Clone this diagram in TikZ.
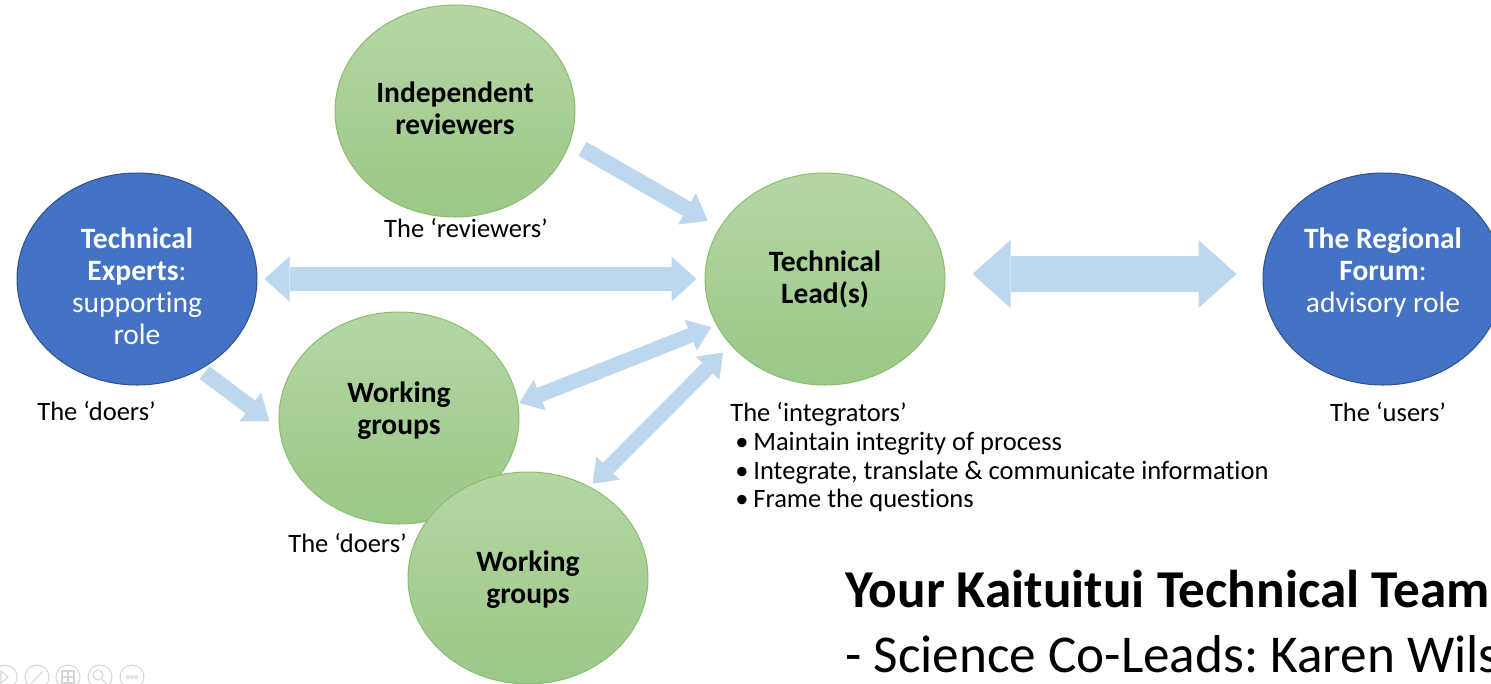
\documentclass[tikz,border=0pt]{standalone}
\usepackage{fontspec}
\setmainfont[Ligatures={TeX,NoCommon}]{Carlito}
\usetikzlibrary{shapes.geometric}
\usetikzlibrary{arrows.meta}

\definecolor{officeblue}{HTML}{4472C4}
\definecolor{blueedge}{HTML}{2F528F}
\definecolor{greentop}{HTML}{B5D6A5}
\definecolor{greenbot}{HTML}{9BC887}
\definecolor{greenedge}{HTML}{8DBE70}
\definecolor{flowblue}{HTML}{BDD7EE}
\definecolor{icongray}{HTML}{D6D6D6}

% lines of an ellipse, moved up or down inside it
\newcommand{\blobtext}[2]{\raisebox{#1}[\height][\depth]{\begin{tabular}{@{}c@{}}#2\end{tabular}}}

\tikzstyle{blob} = [ellipse, minimum width=4.8cm, minimum height=4.24cm, inner sep=0pt, line width=0.6pt, font=\fontsize{16.8}{18.1}\selectfont]
\tikzstyle{blueblob} = [blob, fill=officeblue, draw=blueedge, text=white]
\tikzstyle{greenblob} = [blob, top color=greentop, bottom color=greenbot, draw=greenedge, font=\fontsize{16.8}{18.1}\selectfont\bfseries]
\tikzstyle{caption} = [inner sep=0pt, anchor=base west, font=\fontsize{15.1}{16.4}\selectfont]
\tikzstyle{smallflow} = [draw=flowblue, line width=0.32cm, >={Triangle[length=0.48cm, width=0.72cm, line width=0pt]}]
\tikzstyle{thinflow} = [draw=flowblue, line width=0.3cm, >={Triangle[length=0.44cm, width=0.66cm, line width=0pt]}]
\tikzstyle{midflow} = [draw=flowblue, line width=0.48cm, >={Triangle[length=0.5cm, width=0.9cm, line width=0pt]}]
\tikzstyle{bigflow} = [draw=flowblue, line width=0.72cm, >={Triangle[length=0.76cm, width=1.36cm, line width=0pt]}]

\begin{document}
\frenchspacing
\begin{tikzpicture}[x=0.02cm, y=-0.02cm]
        \useasboundingbox (0,0) rectangle (1491,683);
        \clip (0,0) rectangle (1491,683);

        \node (rev) [greenblob] at (455,111) {\blobtext{-0.02cm}{Independent\\reviewers}};
        \node (exp) [blueblob] at (137,279) {\blobtext{-0.22cm}{\textbf{Technical}\\\textbf{Experts}:\\supporting\\role}};
        \node (lead) [greenblob] at (825,279) {\blobtext{-0.04cm}{Technical\\Lead(s)}};
        \node (forum) [blueblob] at (1383,279) {\blobtext{0.1cm}{\textbf{The Regional}\\\textbf{Forum}:\\advisory role}};
        \node (wg) [greenblob] at (399,418) {\blobtext{0.11cm}{Working\\groups}};
        \node (wgb) [greenblob] at (528,578) {\blobtext{-0.06cm}{Working\\groups}};

        \node (revcap) [caption, anchor=base] at (466,237) {The ‘reviewers’};
        \node (doa) [caption] at (37,420) {The ‘doers’};
        \node (dob) [caption] at (288,552) {The ‘doers’};
        \node (usr) [caption, anchor=base] at (1388,421) {The ‘users’};
        \node (integ) [caption] at (730,421) {The ‘integrators’};
        \node (pt1) [caption] at (735,450) {\makebox[0.36cm][l]{\textbullet}Maintain integrity of process};
        \node (pt2) [caption] at (735,479) {\makebox[0.36cm][l]{\textbullet}Integrate, translate \& communicate information};
        \node (pt3) [caption] at (735,507) {\makebox[0.36cm][l]{\textbullet}Frame the questions};

        \node (title) [inner sep=0pt, anchor=base west, font=\fontsize{30.3}{36}\selectfont\bfseries] at (845,607) {Your Kaituitui Technical Team};
        \node (leads) [inner sep=0pt, anchor=base west, font=\fontsize{30.3}{36}\selectfont] at (845,672) {- Science Co-Leads: Karen Wils};

        % block arrows
        \draw[smallflow, ->, shorten <=0.28cm, shorten >=0.27cm] (rev.-15) -- (lead.154);
        \draw[midflow, <->, shorten <=0.14cm, shorten >=0.16cm] (exp.east) -- (lead.west);
        \draw[bigflow, <->, shorten <=0.54cm, shorten >=0.52cm] ([yshift=0.1cm]lead.east) -- ([yshift=0.1cm]forum.west);
        \draw[smallflow, ->, shorten <=0.1cm, shorten >=0.24cm] (exp.-55) -- (wg.185);
        \draw[thinflow, <->, shorten <=0.02cm, shorten >=0.11cm] (wg.7) -- (lead.203);
        \draw[thinflow, <->, shorten <=0.08cm, shorten >=0.21cm] (wgb.56) -- (lead.215);

        % viewer buttons
        \foreach \cx in {5,37,68,100,132}
            \draw[icongray, line width=0.6pt] (\cx,677) circle (12);
        \draw[icongray, line width=0.6pt] (1,671) -- (8,677) -- (1,683) -- cycle;
        \draw[icongray, line width=0.6pt] (31,684) -- (43,671);
        \draw[icongray, line width=0.6pt] (62,671) rectangle (74,683) (68,671) -- (68,683) (62,677) -- (74,677);
        \draw[icongray, line width=0.6pt] (98,675) circle (5) (102,679) -- (107,684);
        \foreach \dx in {-4,0,4}
            \draw[icongray, line width=0.5pt] (132+\dx,677) circle (1.5);
\end{tikzpicture}
\end{document}
